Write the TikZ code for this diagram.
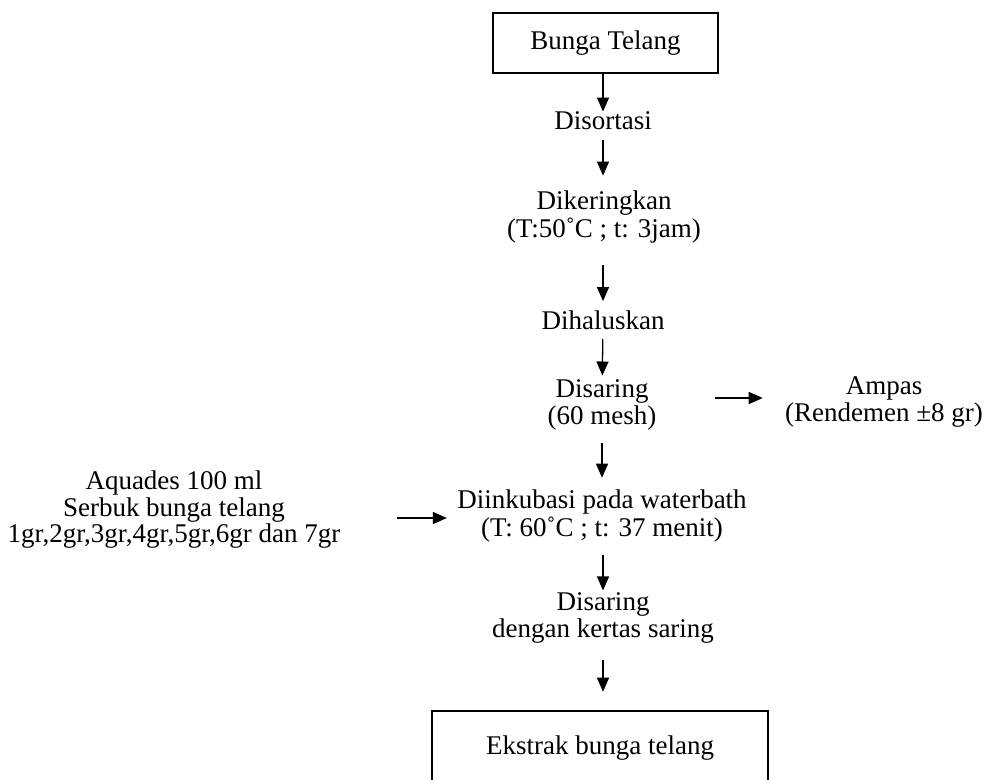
\documentclass[tikz,border=0pt]{standalone}
\usepackage{fontspec}
\setmainfont{Liberation Serif}
\usetikzlibrary{arrows.meta, positioning}
\tikzset{
    tahap/.style={align=center, inner sep=0pt, font=\fontsize{13.5}{12}\selectfont},
    boxed/.style={draw, rectangle, line width=1.3pt, anchor=center},
    arr/.style={-{Triangle[length=7pt,width=6pt]}, line width=0.65pt} }

\begin{document}
\begin{tikzpicture}[x=0.5pt, y=-0.5pt]
\useasboundingbox (0,0) rectangle (984,780);
\node[boxed, tahap, minimum width=112.5pt, minimum height=30pt] (bunga) at (605.5,43) {Bunga Telang};
\node[tahap] (sortasi) at (603,121) {Disortasi};
\node[tahap] (kering) at (604,217) {Dikeringkan\\(T:50˚C ; t: 3jam)};
\node[tahap] (halus) at (603,320) {Dihaluskan};
\node[tahap] (ayak) at (602,405) {Disaring\\(60 mesh)};
\node[tahap] (ampas) at (884,402) {Ampas\\(Rendemen ±8 gr)};
\node[tahap] (bahan) at (174,510) {Aquades 100 ml\\Serbuk bunga telang\\1gr,2gr,3gr,4gr,5gr,6gr dan 7gr};
\node[tahap] (inkubasi) at (602,516) {Diinkubasi pada waterbath\\(T: 60˚C ; t: 37 menit)};
\node[tahap] (saring) at (603,618) {Disaring\\dengan kertas saring};
\node[boxed, tahap, minimum width=168pt, minimum height=37pt] (ekstrak) at (600,748) {Ekstrak bunga telang};
% ----
\draw[arr] (sortasi.north |- bunga.south) -- (sortasi.north);
\draw[arr, shorten <=5pt, shorten >=7.5pt] (sortasi) -- (sortasi |- kering.north);
\draw[arr, shorten <=11pt, shorten >=4.5pt] (halus |- kering.south) -- (halus);
\draw[arr, shorten <=4.5pt, shorten >=2pt] (halus) -- (ayak);
\draw[arr, shorten <=6.5pt, shorten >=6pt] (ayak) -- (inkubasi);
\draw[arr, shorten <=6.5pt, shorten >=1pt] (saring |- inkubasi.south) -- (saring.north);
\draw[arr, shorten <=8pt, shorten >=9pt] (saring.south) -- (saring.south |- ekstrak.north);
% ----
\draw[arr, shorten <=29pt, shorten >=11pt] ([yshift=3.5pt]ayak.east) -- ([yshift=3.5pt]ayak.east -| ampas.west);
\draw[arr, shorten <=28pt, shorten >=5pt] ([yshift=-1pt]inkubasi.west -| bahan.east) -- ([yshift=-1pt]inkubasi.west);
\end{tikzpicture}
\end{document}
